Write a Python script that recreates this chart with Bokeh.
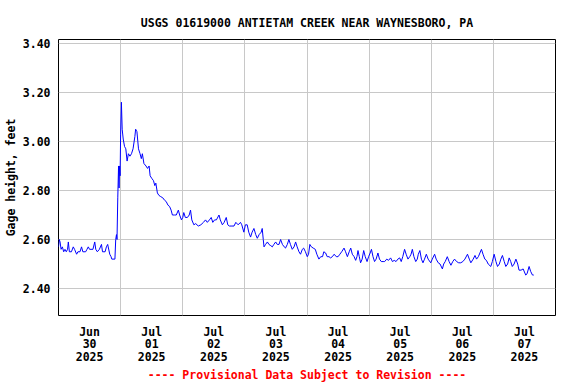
from bokeh.plotting import figure
from bokeh.models import Range1d, FixedTicker, NumeralTickFormatter
from bokeh.embed import file_html
from bokeh.resources import INLINE

# hours since 2025-06-30 00:00
hours = [0.0, 0.3, 0.6, 1.0, 1.5, 2.0, 2.5, 3.0, 3.5, 3.8, 4.2, 5.0, 5.7, 6.2, 7.0, 7.5, 8.3, 8.9, 9.4, 10.5,
         11.0, 11.5, 12.0, 13.3, 14.0, 14.4, 15.0, 15.8, 16.6, 17.0, 18.0, 18.5, 19.0, 19.8, 20.3, 20.6, 21.8,
         22.1, 22.4, 22.6, 22.9, 23.2, 23.4, 23.6, 23.8, 24.0, 24.3, 24.6, 25.0, 25.5, 26.0, 26.5, 27.0, 27.6,
         28.2, 28.8, 29.5, 29.8, 30.3, 30.9, 31.5, 32.0, 32.4, 33.0, 33.8, 34.4, 35.0, 35.4, 36.0, 36.7, 37.2,
         37.6, 38.2, 38.8, 39.5, 40.3, 41.0, 41.6, 42.3, 42.9, 43.5, 44.0, 44.8, 45.5, 46.3, 46.8, 47.5, 48.0,
         48.4, 49.0, 49.8, 50.5, 51.0, 51.5, 52.3, 53.0, 54.0, 55.0, 56.0, 56.8, 57.5, 58.3, 59.0, 59.6, 60.3,
         61.0, 62.0, 62.5, 63.3, 64.0, 64.8, 65.4, 66.0, 67.0, 67.8, 68.5, 69.4, 70.3, 70.8, 71.6, 72.2, 72.9,
         73.5, 74.2, 74.8, 75.5, 76.2, 76.8, 77.5, 78.3, 78.7, 79.1, 79.4, 80.0, 80.7, 81.3, 82.0, 82.6, 83.2,
         83.9, 84.5, 85.2, 85.8, 86.5, 87.2, 87.7, 88.4, 89.0, 89.6, 90.3, 91.0, 91.6, 92.2, 92.9, 93.5, 94.2,
         94.7, 95.4, 96.1, 96.6, 97.1, 97.7, 98.4, 99.2, 99.8, 100.6, 101.3, 102.0, 102.5, 103.2, 103.8, 104.5,
         105.1, 105.8, 106.5, 107.3, 108.0, 108.7, 109.4, 110.3, 110.9, 111.6, 112.3, 112.9, 113.5, 114.2,
         114.8, 115.3, 115.7, 116.2, 116.7, 117.3, 117.9, 118.5, 119.2, 119.8, 120.4, 120.9, 121.5, 122.1,
         122.7, 123.4, 124.0, 124.7, 125.4, 126.0, 126.8, 127.5, 128.3, 129.0, 129.7, 130.4, 131.1, 131.8,
         132.4, 133.0, 133.7, 134.3, 135.0, 135.7, 136.2, 136.7, 137.3, 138.0, 138.6, 139.0, 139.6, 140.2,
         140.8, 141.4, 142.1, 142.8, 143.8, 144.4, 145.3, 145.9, 146.7, 147.4, 148.3, 148.8, 149.4, 150.2,
         150.9, 151.6, 152.3, 153.0, 153.8, 154.6, 155.4, 156.2, 157.0, 158.0, 158.7, 159.3, 160.2, 160.9,
         161.5, 162.2, 162.8, 163.4, 164.0, 164.7, 165.3, 166.0, 167.0, 167.6, 168.3, 169.0, 169.6, 170.3,
         170.9, 171.5, 172.2, 172.8, 173.5, 174.1, 174.7, 175.3, 176.0, 176.7, 177.4, 177.9, 178.7, 179.5,
         180.5, 181.0, 181.8, 182.4, 183.1, 183.6]

stage = [2.57, 2.60, 2.59, 2.56, 2.57, 2.55, 2.56, 2.55, 2.56, 2.59, 2.55, 2.55, 2.57, 2.56, 2.54, 2.55, 2.55, 2.57, 2.55, 2.55,
         2.56, 2.57, 2.56, 2.56, 2.59, 2.56, 2.55, 2.56, 2.58, 2.55, 2.55, 2.57, 2.58, 2.54, 2.53, 2.52, 2.52,
         2.60, 2.62, 2.60, 2.77, 2.90, 2.81, 2.90, 2.86, 3.03, 3.16, 3.05, 3.01, 2.98, 2.97, 2.92, 2.95, 2.94,
         2.95, 2.97, 3.02, 3.05, 3.04, 2.97, 2.95, 2.93, 2.95, 2.91, 2.90, 2.89, 2.90, 2.86, 2.85, 2.84, 2.82,
         2.83, 2.79, 2.78, 2.775, 2.77, 2.76, 2.755, 2.74, 2.735, 2.72, 2.70, 2.70, 2.70, 2.72, 2.70, 2.68, 2.69,
         2.71, 2.69, 2.69, 2.70, 2.72, 2.68, 2.66, 2.665, 2.655, 2.66, 2.67, 2.68, 2.67, 2.68, 2.69, 2.67, 2.68,
         2.68, 2.70, 2.68, 2.66, 2.67, 2.69, 2.66, 2.655, 2.655, 2.655, 2.67, 2.66, 2.67, 2.66, 2.63, 2.66, 2.66,
         2.63, 2.61, 2.63, 2.645, 2.62, 2.605, 2.62, 2.63, 2.645, 2.60, 2.57, 2.58, 2.59, 2.58, 2.575, 2.57, 2.58,
         2.59, 2.58, 2.58, 2.60, 2.58, 2.57, 2.565, 2.58, 2.60, 2.58, 2.56, 2.57, 2.59, 2.57, 2.55, 2.54, 2.56,
         2.565, 2.55, 2.53, 2.54, 2.58, 2.57, 2.565, 2.56, 2.54, 2.52, 2.53, 2.53, 2.55, 2.545, 2.53, 2.53,
         2.525, 2.53, 2.54, 2.53, 2.53, 2.54, 2.55, 2.565, 2.55, 2.53, 2.55, 2.565, 2.54, 2.53,
         2.515, 2.53, 2.555, 2.53, 2.505, 2.52, 2.555, 2.53, 2.51, 2.53, 2.545, 2.56, 2.53, 2.51,
         2.52, 2.545, 2.52, 2.51, 2.51, 2.51, 2.52, 2.515, 2.525, 2.51, 2.515, 2.51, 2.52, 2.525,
         2.51, 2.53, 2.56, 2.54, 2.52, 2.53, 2.54, 2.56, 2.53, 2.51, 2.52, 2.54, 2.555, 2.52,
         2.505, 2.52, 2.54, 2.52, 2.505, 2.52, 2.54, 2.52, 2.505, 2.50, 2.48, 2.50, 2.51, 2.53,
         2.51, 2.495, 2.51, 2.52, 2.51, 2.505, 2.505, 2.51, 2.52, 2.54, 2.52, 2.505, 2.52, 2.535,
         2.52, 2.53, 2.545, 2.56, 2.54, 2.52, 2.515, 2.50, 2.49, 2.51, 2.54, 2.51, 2.49, 2.50,
         2.52, 2.535, 2.51, 2.49, 2.50, 2.525, 2.51, 2.49, 2.50, 2.52, 2.50, 2.475, 2.475, 2.48,
         2.455, 2.46, 2.49, 2.47, 2.455, 2.455]

tick_hours = [12, 36, 60, 84, 108, 132, 156, 180]
tick_labels = ["Jun\n30\n2025", "Jul\n01\n2025", "Jul\n02\n2025", "Jul\n03\n2025",
               "Jul\n04\n2025", "Jul\n05\n2025", "Jul\n06\n2025", "Jul\n07\n2025"]
day_hours = [24, 48, 72, 96, 120, 144, 168]
y_ticks = [2.40, 2.60, 2.80, 3.00, 3.20, 3.40]

FONT = "DejaVu Sans Mono"
FS = "11.5px"

p = figure(frame_width=497, frame_height=276, output_backend="svg", toolbar_location=None,
           x_range=Range1d(0, 192), y_range=Range1d(2.29, 3.416),
           min_border_left=0, min_border_right=7, min_border_top=39, min_border_bottom=0,
           background_fill_color="white", border_fill_color="white")

p.title.text = "USGS 01619000 ANTIETAM CREEK NEAR WAYNESBORO, PA"
p.title.align = "center"
p.title.text_font = FONT
p.title.text_font_size = FS
p.title.text_font_style = "bold"
p.title.text_color = "black"
p.title.standoff = 19

p.outline_line_color = "black"
p.outline_line_width = 1

for ax in (p.xaxis[0], p.yaxis[0]):
    ax.axis_line_color = None
    ax.major_tick_line_color = None
    ax.minor_tick_line_color = None
    ax.major_tick_out = 0
    ax.major_tick_in = 0
    ax.major_label_text_font = FONT
    ax.major_label_text_font_size = FS
    ax.major_label_text_font_style = "bold"
    ax.major_label_text_color = "black"

p.xaxis.ticker = FixedTicker(ticks=tick_hours)
p.xaxis.major_label_overrides = {h: lab for h, lab in zip(tick_hours, tick_labels)}
p.xaxis.major_label_standoff = 9
p.xaxis.major_label_text_line_height = 0.92
p.xaxis.axis_label = "---- Provisional Data Subject to Revision ----"
p.xaxis.axis_label_text_font = FONT
p.xaxis.axis_label_text_font_size = FS
p.xaxis.axis_label_text_font_style = "bold"
p.xaxis.axis_label_text_color = "red"
p.xaxis.axis_label_standoff = 1

p.yaxis.ticker = FixedTicker(ticks=y_ticks)
p.yaxis.formatter = NumeralTickFormatter(format="0.00")
p.yaxis.major_label_standoff = 8
p.yaxis.axis_label = "Gage height, feet"
p.yaxis.axis_label_text_font = FONT
p.yaxis.axis_label_text_font_size = FS
p.yaxis.axis_label_text_font_style = "bold"
p.yaxis.axis_label_text_color = "black"
p.yaxis.axis_label_standoff = 2

p.xgrid.ticker = FixedTicker(ticks=day_hours)
p.ygrid.ticker = FixedTicker(ticks=y_ticks)
for g in (p.xgrid[0], p.ygrid[0]):
    g.grid_line_color = "#c8c8c8"
    g.grid_line_width = 1

p.line(hours, stage, line_color="#0000ff", line_width=1)

open("out.html", "w").write(file_html(p, INLINE))
